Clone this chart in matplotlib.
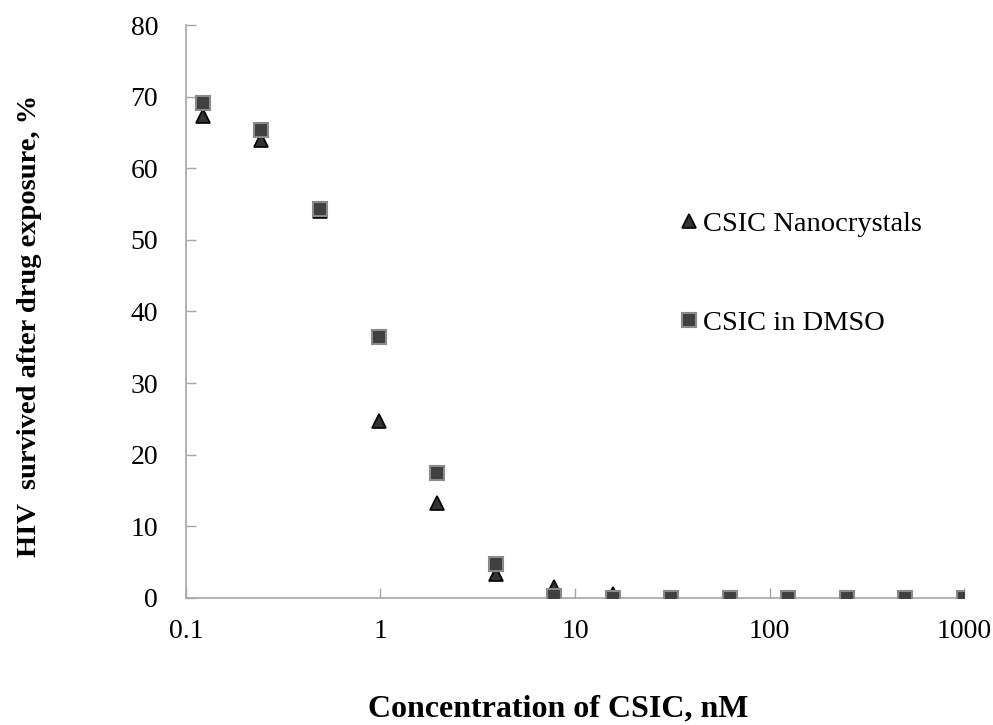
import matplotlib.pyplot as plt

plt.rcParams['font.family'] = ['Liberation Serif', 'DejaVu Serif']

# --- Data: drug concentration (nM) vs HIV survival (%) ---
conc = [0.122, 0.244, 0.488, 0.977, 1.95, 3.91, 7.81, 15.6, 31.25, 62.5, 125, 250, 500, 1000]
nano = [67.3, 64.0, 54.0, 24.7, 13.3, 3.4, 1.5, 0.5, 0, 0, 0, 0, 0, 0]
dmso = [69.1, 65.3, 54.3, 36.4, 17.5, 4.8, 0.3, 0, 0, 0, 0, 0, 0, 0]

fig = plt.figure(figsize=(9.93, 7.25), dpi=100)
ax = fig.add_axes([0.1873, 0.1752, 0.7835, 0.7903])

ax.plot(conc, nano, linestyle='none', marker='^', markersize=10,
        markerfacecolor='#333333', markeredgecolor='black', markeredgewidth=1.2,
        label='CSIC Nanocrystals', zorder=3)
ax.plot(conc, dmso, linestyle='none', marker='s', markersize=10,
        markerfacecolor='#404040', markeredgecolor='#8a8a8a', markeredgewidth=1.5,
        label='CSIC in DMSO', zorder=4)

ax.set_xscale('log')
ax.set_xlim(0.1, 1000)
ax.set_ylim(0, 80)
ax.set_xticks([0.1, 1, 10, 100, 1000])
ax.set_xticklabels(['0.1', '1', '10', '100', '1000'])
ax.minorticks_off()
ax.set_yticks(range(0, 81, 10))

for side in ['top', 'right']:
    ax.spines[side].set_visible(False)
for side in ['left', 'bottom']:
    ax.spines[side].set_color('#a6a6a6')
    ax.spines[side].set_linewidth(1.2)
ax.tick_params(direction='in', length=7, width=1, color='#a6a6a6', labelsize=20)
ax.tick_params(axis='x', pad=15)
ax.tick_params(axis='y', pad=20)

ax.set_xlabel('Concentration of CSIC, nM', fontsize=23, fontweight='bold')
ax.xaxis.set_label_coords(0.479, -0.168)
ax.set_ylabel('HIV  survived after drug exposure, %', fontsize=20.5, fontweight='bold')
ax.yaxis.set_label_coords(-0.185, 0.475)

ax.legend(loc='upper left', bbox_to_anchor=(0.604, 0.72), frameon=False,
          fontsize=20.5, handlelength=0.5, handletextpad=0.25, labelspacing=2.55,
          markerscale=1.0)

fig.savefig('out.png', dpi=100)
